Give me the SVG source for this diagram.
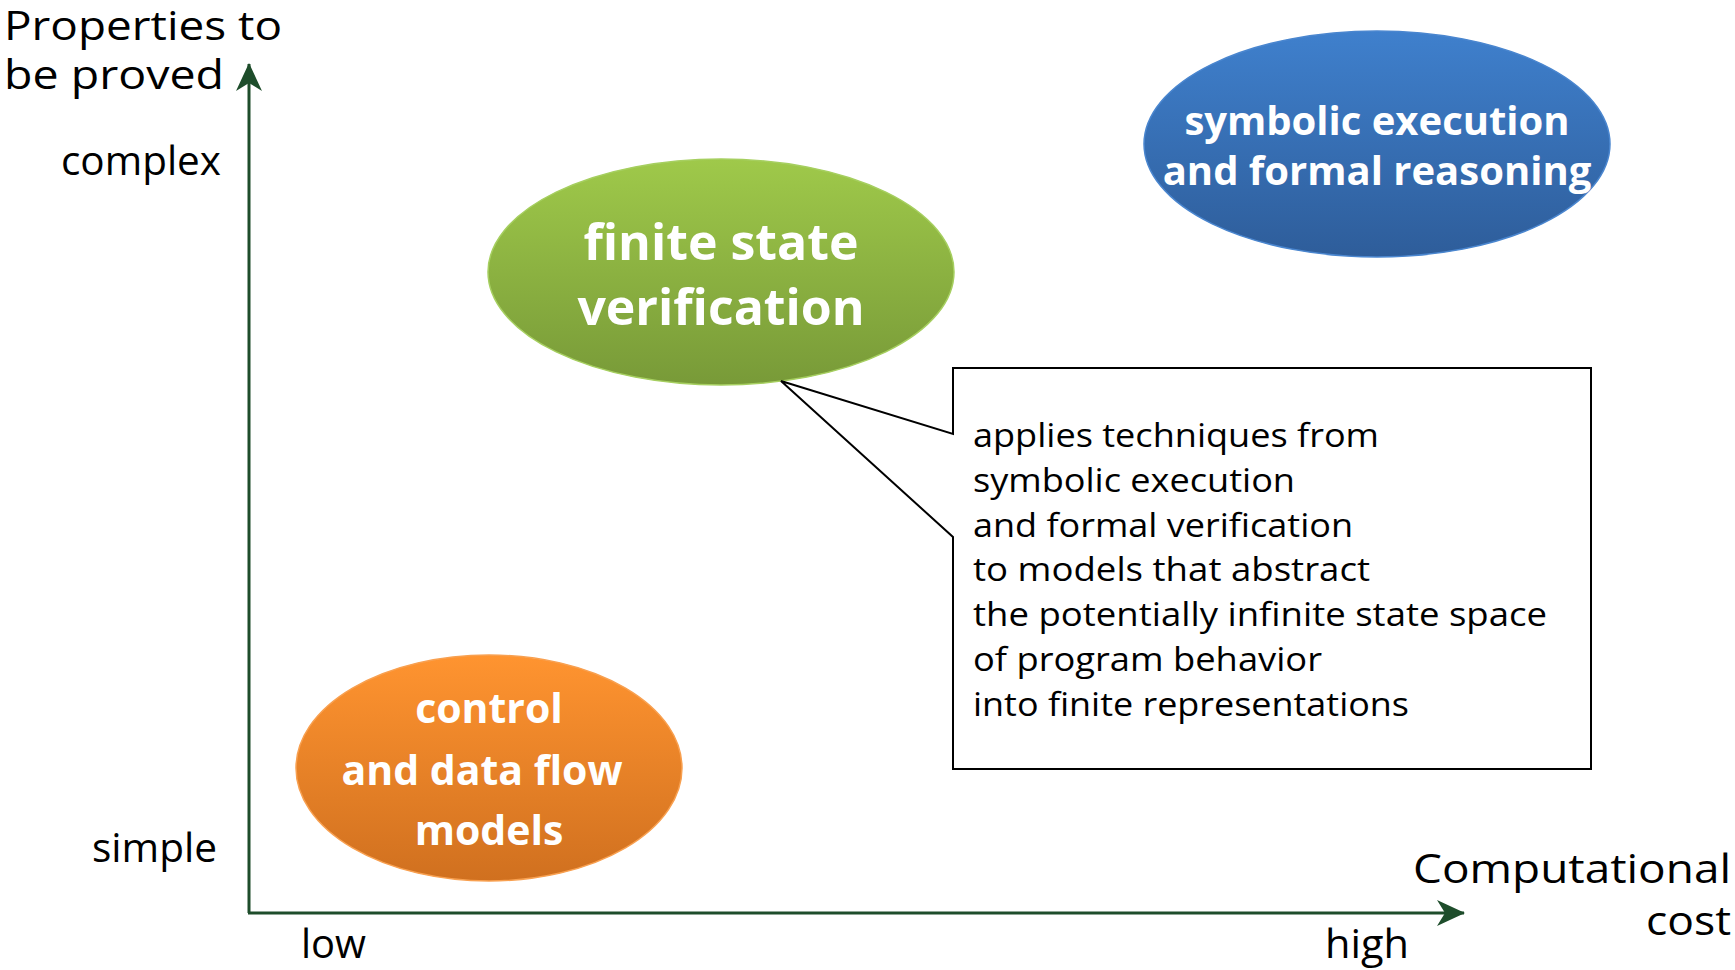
<svg xmlns="http://www.w3.org/2000/svg" width="1735" height="970" viewBox="0 0 1735 970">
<style>
.lbl{font-family:"Open Sans","Noto Sans",sans-serif;fill:#000}
.axl{font-size:41px}
.tick{font-size:40px}
.node{font-family:"Open Sans","Noto Sans",sans-serif;font-weight:bold;fill:#fff;text-anchor:middle}
.note{font-family:"Open Sans","Noto Sans",sans-serif;font-size:33px;fill:#000}
.axis{stroke:#1e4d2b;stroke-width:3;fill:none}
</style>
<defs>
<linearGradient id="gGreen" x1="0" y1="0" x2="0" y2="1">
<stop offset="0" stop-color="#9fc94a"/><stop offset="1" stop-color="#789a38"/>
</linearGradient>
<linearGradient id="gBlue" x1="0" y1="0" x2="0" y2="1">
<stop offset="0" stop-color="#3f80cd"/><stop offset="1" stop-color="#2e5d9a"/>
</linearGradient>
<linearGradient id="gOrange" x1="0" y1="0" x2="0" y2="1">
<stop offset="0" stop-color="#ff9430"/><stop offset="1" stop-color="#d0701f"/>
</linearGradient>
<marker id="arr" viewBox="0 0 28 26" refX="27" refY="13" markerWidth="28" markerHeight="26" orient="auto" markerUnits="userSpaceOnUse">
<path d="M0,0 L28,13 L0,26 L8,13 z" fill="#1e4d2b"/>
</marker>
</defs>
<g id="connectors">
<line class="axis" x1="249" y1="913" x2="249" y2="64" marker-end="url(#arr)"/>
<line class="axis" x1="248" y1="913" x2="1464" y2="913" marker-end="url(#arr)"/>
</g>
<g id="axis-labels">
<text class="lbl axl" x="4" y="40" textLength="278" lengthAdjust="spacingAndGlyphs">Properties to</text>
<text class="lbl axl" x="4" y="89" textLength="220" lengthAdjust="spacingAndGlyphs">be proved</text>
<text class="lbl tick" x="61" y="175" textLength="160" lengthAdjust="spacingAndGlyphs">complex</text>
<text class="lbl tick" x="92" y="862" textLength="125" lengthAdjust="spacingAndGlyphs">simple</text>
<text class="lbl tick" x="301" y="958" textLength="65" lengthAdjust="spacingAndGlyphs">low</text>
<text class="lbl tick" x="1325" y="958" textLength="84" lengthAdjust="spacingAndGlyphs">high</text>
<text class="lbl axl" x="1413" y="883" textLength="318" lengthAdjust="spacingAndGlyphs">Computational</text>
<text class="lbl axl" x="1646" y="935" textLength="85" lengthAdjust="spacingAndGlyphs">cost</text>
</g>
<g id="node-fsv">
<ellipse cx="721" cy="272" rx="233" ry="113" fill="url(#gGreen)" stroke="#a6cf60" stroke-width="1.5"/>
<text class="node" x="721" y="260" font-size="50">finite state</text>
<text class="node" x="721" y="325" font-size="50">verification</text>
</g>
<g id="node-sym">
<ellipse cx="1377" cy="144" rx="233" ry="113" fill="url(#gBlue)" stroke="#4a86cf" stroke-width="1.5"/>
<text class="node" x="1377" y="135" font-size="40">symbolic execution</text>
<text class="node" x="1377" y="185" font-size="40">and formal reasoning</text>
</g>
<g id="node-cdf">
<ellipse cx="489" cy="768" rx="193" ry="113" fill="url(#gOrange)" stroke="#f8a050" stroke-width="1.5"/>
<text class="node" x="489" y="723" font-size="41">control</text>
<text class="node" x="482" y="785" font-size="41">and data flow</text>
<text class="node" x="489" y="845" font-size="41">models</text>
</g>
<g id="callout">
<path d="M953,368 L1591,368 L1591,769 L953,769 L953,537 L781,381 L953,434 Z" fill="#fff" stroke="#000" stroke-width="2"/>
<text class="note" x="973" y="447" textLength="406" lengthAdjust="spacingAndGlyphs">applies techniques from</text>
<text class="note" x="973" y="492" textLength="322" lengthAdjust="spacingAndGlyphs">symbolic execution</text>
<text class="note" x="973" y="537" textLength="380" lengthAdjust="spacingAndGlyphs">and formal verification</text>
<text class="note" x="973" y="581" textLength="397" lengthAdjust="spacingAndGlyphs">to models that abstract</text>
<text class="note" x="973" y="626" textLength="574" lengthAdjust="spacingAndGlyphs">the potentially infinite state space</text>
<text class="note" x="973" y="671" textLength="349" lengthAdjust="spacingAndGlyphs">of program behavior</text>
<text class="note" x="973" y="716" textLength="436" lengthAdjust="spacingAndGlyphs">into finite representations</text>
</g>
</svg>
